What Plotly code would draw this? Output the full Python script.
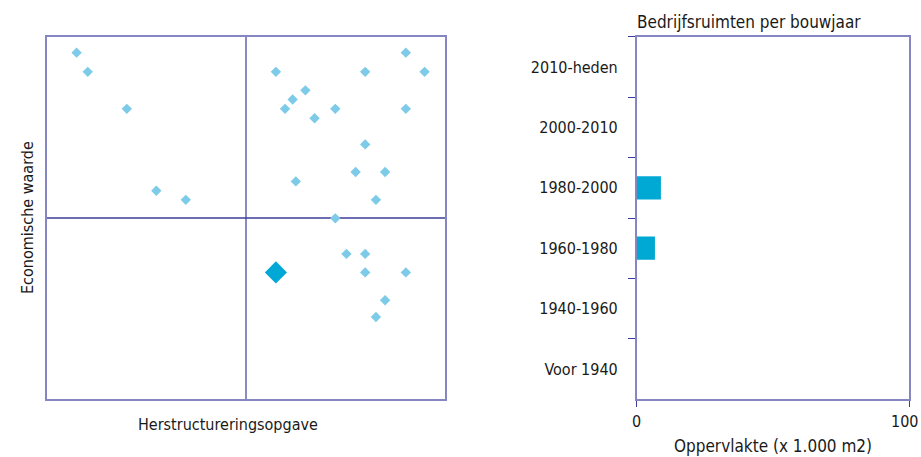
import plotly.graph_objects as go

# --- data ---
scatter_x = [7.5, 10.3, 20.1, 27.5, 34.9, 57.5, 79.9, 90.1, 94.8, 64.9, 61.7, 59.8, 72.4, 90.1,
             67.2, 79.9, 77.5, 84.9, 62.5, 82.6, 72.4, 75.2, 79.9, 79.9, 90.1, 84.9, 82.6]
scatter_y = [95.6, 90.3, 80.1, 57.5, 55.0, 90.3, 90.3, 95.6, 90.3, 85.2, 82.7, 80.1, 80.1, 80.1,
             77.5, 70.3, 62.7, 62.7, 60.1, 55.0, 49.9, 40.1, 40.1, 35.0, 35.0, 27.3, 22.7]
highlight_x = [57.5]
highlight_y = [35.0]

periods = ["Voor 1940", "1940-1960", "1960-1980", "1980-2000", "2000-2010", "2010-heden"]
area = [0, 0, 6.7, 8.9, 0, 0]

area_ticks = [0, 100]
area_ticklabels = ["0", "100"]

FONT = "Liberation Sans Narrow, DejaVu Sans Condensed, Arial Narrow, sans-serif"
FRAME = "#8686c3"
TXT = "#1a1a1a"

W, H = 921, 457
def px_x(a, b):
    return [a / W, b / W]
def px_y(top, bottom):
    return [1 - bottom / H, 1 - top / H]

fig = go.Figure()

fig.add_trace(go.Scatter(
    x=scatter_x, y=scatter_y, mode="markers",
    marker=dict(symbol="diamond", size=8, color="#7dcbe8", line=dict(width=0)),
    xaxis="x", yaxis="y", hoverinfo="skip", showlegend=False))
fig.add_trace(go.Scatter(
    x=highlight_x, y=highlight_y, mode="markers",
    marker=dict(symbol="diamond", size=17, color="#00a8d6", line=dict(width=0)),
    xaxis="x", yaxis="y", hoverinfo="skip", showlegend=False))

fig.add_trace(go.Bar(
    x=area, y=periods, orientation="h", width=0.385,
    marker=dict(color="#00a9d4", line=dict(width=0)),
    xaxis="x2", yaxis="y2", showlegend=False))

# x tick labels of the bar panel as annotations; the last one is kept inside the page edge
tick_annots = []
for i, (v, t) in enumerate(zip(area_ticks, area_ticklabels)):
    last = i == len(area_ticks) - 1
    tick_annots.append(dict(
        text=t, xref="paper" if last else "x2", yref="paper",
        x=(920 / W) if last else v, y=1 - 421.5 / H,
        xanchor="right" if last else "center", yanchor="middle", showarrow=False,
        font=dict(size=16, family=FONT, color=TXT)))

fig.update_layout(
    width=W, height=H,
    margin=dict(l=0, r=0, t=0, b=0, autoexpand=False),
    paper_bgcolor="white", plot_bgcolor="white",
    font=dict(family=FONT, size=16, color=TXT),
    xaxis=dict(domain=px_x(46.7, 445.3), range=[0, 100], showgrid=False, zeroline=False,
               showticklabels=False, ticks="", showline=True, mirror=True,
               linecolor=FRAME, linewidth=1.5, automargin=False),
    yaxis=dict(domain=px_y(36.7, 399.3), range=[0, 100], showgrid=False, zeroline=False,
               showticklabels=False, ticks="", showline=True, mirror=True,
               linecolor=FRAME, linewidth=1.5, automargin=False),
    xaxis2=dict(domain=px_x(636.7, 909), range=[0, 100], showgrid=False, zeroline=False,
                tickvals=area_ticks, showticklabels=False, ticks="outside", ticklen=6,
                tickcolor="#3b3b98", showline=True, mirror=True,
                linecolor=FRAME, linewidth=1.5, anchor="y2", automargin=False),
    yaxis2=dict(domain=px_y(36.7, 399.3), type="category", categoryorder="array",
                categoryarray=periods, showgrid=False, zeroline=False,
                ticks="outside", tickson="boundaries", ticklen=7, tickcolor="#3b3b98",
                showline=True, mirror=True, linecolor=FRAME, linewidth=1.5,
                anchor="x2", ticklabelstandoff=14, automargin=False,
                tickfont=dict(size=16, family=FONT, color=TXT)),
    shapes=[
        dict(type="line", xref="x", yref="y", x0=50, x1=50, y0=0, y1=100,
             line=dict(color="#8a8ac6", width=2), layer="below"),
        dict(type="line", xref="x", yref="y", x0=0, x1=100, y0=50, y1=50,
             line=dict(color="#3b3b98", width=1.5), layer="below"),
    ],
    annotations=tick_annots + [
        dict(text="Bedrijfsruimten per bouwjaar", xref="paper", yref="paper",
             x=634.5 / W, y=1 - 22 / H, xanchor="left", yanchor="middle",
             showarrow=False, font=dict(size=17, family=FONT, color=TXT)),
        dict(text="Herstructureringsopgave", xref="paper", yref="paper",
             x=228 / W, y=1 - 424 / H, xanchor="center", yanchor="middle",
             showarrow=False, font=dict(size=16, family=FONT, color=TXT)),
        dict(text="Economische waarde", xref="paper", yref="paper",
             x=27 / W, y=1 - 218 / H, xanchor="center", yanchor="middle", textangle=-90,
             showarrow=False, font=dict(size=16, family=FONT, color=TXT)),
        dict(text="Oppervlakte (x 1.000 m2)", xref="paper", yref="paper",
             x=772.8 / W, y=1 - 446 / H, xanchor="center", yanchor="middle",
             showarrow=False, font=dict(size=17, family=FONT, color=TXT)),
    ],
)

fig.write_html("out.html", config={"displayModeBar": False},
               post_script="document.body.style.margin='0px';")
